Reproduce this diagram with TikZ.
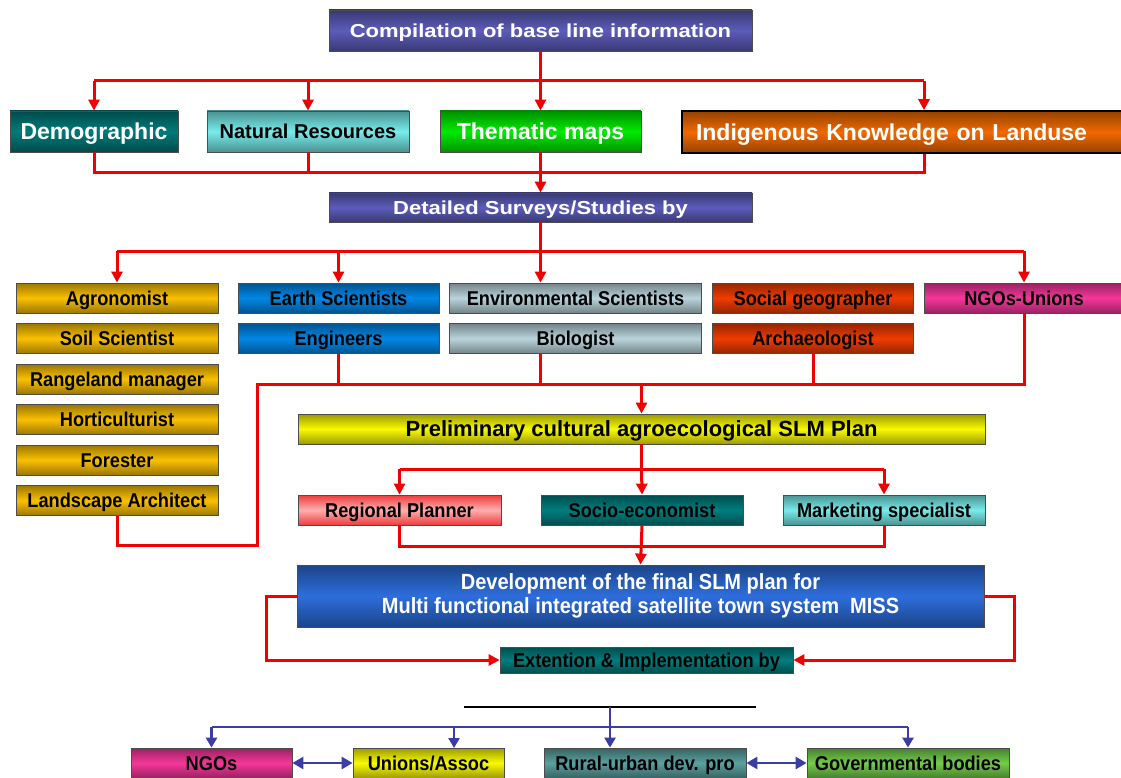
\documentclass[tikz,border=0pt]{standalone}
\usepackage{fontspec}
\setmainfont{Liberation Sans}
\newfontfamily\wideface[FakeStretch=1.17]{Liberation Sans}
\newfontfamily\narrowface[FakeStretch=0.91]{Liberation Sans}
\usetikzlibrary{arrows.meta}

\definecolor{compC}{RGB}{92,92,186}
\definecolor{demoC}{RGB}{0,122,122}
\definecolor{natresC}{RGB}{120,235,235}
\definecolor{themC}{RGB}{0,235,0}
\definecolor{indigC}{RGB}{240,105,0}
\definecolor{goldC}{RGB}{250,192,0}
\definecolor{earthC}{RGB}{0,135,230}
\definecolor{envC}{RGB}{185,212,220}
\definecolor{socialC}{RGB}{240,60,0}
\definecolor{ngoC}{RGB}{245,55,155}
\definecolor{prelimC}{RGB}{250,250,0}
\definecolor{regionE}{RGB}{235,60,60}
\definecolor{regionM}{RGB}{255,175,175}
\definecolor{socioC}{RGB}{0,125,125}
\definecolor{develC}{RGB}{45,110,220}
\definecolor{ruralC}{RGB}{90,160,160}
\definecolor{govC}{RGB}{115,205,75}
\definecolor{lineR}{RGB}{240,0,0}
\definecolor{lineB}{RGB}{60,60,165}

\begin{document}
\begin{tikzpicture}[x=1pt, y=-1pt]
    \tikzset{
        box/.style={draw=black!70, line width=0.8pt, inner sep=0pt, minimum height=30pt, text=black},
        tint/.style={top color=#1!62!black, bottom color=#1!62!black, middle color=#1},
        headfont/.style={font=\wideface\bfseries\fontsize{18.8}{22}\selectfont, text=white, text height=13.5pt, text depth=0pt},
        bigfont/.style={font=\bfseries\fontsize{23}{26}\selectfont, text=white, text height=16.5pt, text depth=0pt},
        slimfont/.style={font=\narrowface\bfseries\fontsize{20}{22}\selectfont, text height=14.3pt, text depth=0pt},
        redline/.style={draw=lineR, line width=3pt},
        redarrow/.style={redline, -{Triangle[length=11pt, width=11pt]}},
        blueline/.style={draw=lineB, line width=2.8pt},
        bluearrow/.style={blueline, -{Triangle[length=10pt, width=11pt]}},
        bluedouble/.style={blueline, {Triangle[length=11pt, width=12pt]}-{Triangle[length=11pt, width=12pt]}},
    }
    \useasboundingbox (0,0) rectangle (1121,778);
    \clip (0,0) rectangle (1121,778);

    % Base line
    \node[box, tint=compC, headfont, minimum width=423pt, minimum height=41pt] (comp) at (540.5,30.5) {Compilation of base line information};
    \node[box, tint=demoC, bigfont, minimum width=168pt, minimum height=41pt] (demo) at (94,131.5) {Demographic};
    \node[box, tint=natresC, font=\bfseries\fontsize{20}{22}\selectfont, text height=14.3pt, text depth=0pt, minimum width=202pt, minimum height=41pt] (natres) at (308,131.5) {Natural Resources};
    \node[box, tint=themC, bigfont, minimum width=201pt, minimum height=41pt] (thematic) at (540.5,131.5) {Thematic maps};
    \node[box, tint=indigC, bigfont, draw=black, line width=1.6pt, text width=456pt, inner xsep=14pt, align=left, minimum height=42pt] (indig) at (924,132) {Indigenous Knowledge on Landuse};
    \node[box, tint=compC, headfont, minimum width=423pt, minimum height=29pt] (detail) at (540.5,207.5) {Detailed Surveys/Studies by};

    % Surveys
    \node[box, tint=goldC, slimfont, minimum width=202pt] (agro) at (117,298) {Agronomist};
    \node[box, tint=goldC, slimfont, minimum width=202pt] (soil) at (117,338.5) {Soil Scientist};
    \node[box, tint=goldC, slimfont, minimum width=202pt] (range) at (117,379) {Rangeland manager};
    \node[box, tint=goldC, slimfont, minimum width=202pt] (horti) at (117,419.5) {Horticulturist};
    \node[box, tint=goldC, slimfont, minimum width=202pt] (forest) at (117,460) {Forester};
    \node[box, tint=goldC, slimfont, minimum width=202pt] (landarch) at (117,500.5) {Landscape Architect};
    \node[box, tint=earthC, slimfont, minimum width=201pt] (earth) at (338.5,298) {Earth Scientists};
    \node[box, tint=earthC, slimfont, minimum width=201pt] (engin) at (338.5,338.5) {Engineers};
    \node[box, tint=envC, slimfont, minimum width=252pt] (environ) at (575.5,298) {Environmental Scientists};
    \node[box, tint=envC, slimfont, minimum width=252pt] (bio) at (575.5,338.5) {Biologist};
    \node[box, tint=socialC, slimfont, minimum width=201pt] (social) at (813,298) {Social geographer};
    \node[box, tint=socialC, slimfont, minimum width=201pt] (archaeo) at (813,338.5) {Archaeologist};
    \node[box, tint=ngoC, slimfont, minimum width=200pt] (ngou) at (1024,298) {NGOs-Unions};

    % Plan
    \node[box, tint=prelimC, font=\bfseries\fontsize{22}{24}\selectfont, text height=15.8pt, text depth=0pt, minimum width=687pt] (prelim) at (641.5,429) {Preliminary cultural agroecological SLM Plan};
    \node[box, top color=regionE, bottom color=regionE, middle color=regionM, slimfont, minimum width=203pt] (regional) at (399.5,510) {Regional Planner};
    \node[box, tint=socioC, slimfont, minimum width=202pt] (socio) at (642,510) {Socio-economist};
    \node[box, tint=natresC, slimfont, minimum width=202pt] (market) at (884,510) {Marketing specialist};
    \node[box, tint=develC, font=\narrowface\bfseries\fontsize{22}{24}\selectfont, text=white, align=center, minimum width=687pt, minimum height=62pt] (devel) at (640.5,596) {Development of the final SLM plan for\\Multi functional integrated satellite town system~ MISS};
    \node[box, tint=socioC, slimfont, minimum width=293pt, minimum height=26pt] (ext) at (646.5,660) {Extention \& Implementation by};

    % Extension bodies
    \node[box, tint=ngoC, slimfont, minimum width=161pt] (ngos) at (211.5,763) {NGOs};
    \node[box, tint=prelimC, slimfont, minimum width=151pt] (unions) at (428.5,763) {Unions/Assoc};
    \node[box, tint=ruralC, slimfont, minimum width=202pt] (rural) at (645,763) {Rural-urban dev. pro};
    \node[box, tint=govC, slimfont, minimum width=202pt] (govt) at (908,763) {Governmental bodies};

    % Buses
    \coordinate (bus1) at (540.5,81);
    \coordinate (bus2) at (540.5,173);
    \coordinate (bus3) at (540.5,251);
    \coordinate (bus5) at (641.5,384);
    \coordinate (bend) at (257,545);
    \coordinate (bus6) at (641.5,469);
    \coordinate (bus7) at (641.5,546);
    \coordinate (barL) at (464,707);
    \coordinate (barR) at (756,707);
    \coordinate (barM) at (610,707);
    \coordinate (bus8) at (610,727);
    \coordinate (uin) at (454,748);

    % Red links
    \draw[redarrow] (comp.south) -- (thematic.north);
    \draw[redline] (bus1 -| demo.north) -- (bus1 -| indig.north);
    \draw[redarrow] (bus1 -| demo.north) -- (demo.north);
    \draw[redarrow] (bus1 -| natres.north) -- (natres.north);
    \draw[redarrow] (bus1 -| indig.north) -- (indig.north);
    \draw[redline] (demo.south) |- (indig.south |- bus2) -- (indig.south);
    \draw[redline] (natres.south) -- (natres.south |- bus2);
    \draw[redarrow] (thematic.south) -- (detail.north);

    \draw[redline] (detail.south) -- (bus3);
    \draw[redline] (bus3 -| agro.north) -- (bus3 -| ngou.north);
    \draw[redarrow] (bus3 -| agro.north) -- (agro.north);
    \draw[redarrow] (bus3 -| earth.north) -- (earth.north);
    \draw[redarrow] (bus3) -- (bus3 |- environ.north);
    \draw[redarrow] (bus3 -| ngou.north) -- (ngou.north);

    \draw[redline] (landarch.south) |- (bend) |- (ngou.south |- bus5) -- (ngou.south);
    \draw[redline] (engin.south) -- (engin.south |- bus5);
    \draw[redline] (bio.south -| bus3) -- (bus3 |- bus5);
    \draw[redline] (archaeo.south) -- (archaeo.south |- bus5);
    \draw[redarrow] (bus5) -- (prelim.north);

    \draw[redline] (prelim.south) -- (bus6);
    \draw[redline] (bus6 -| regional.north) -- (bus6 -| market.north);
    \draw[redarrow] (bus6 -| regional.north) -- (regional.north);
    \draw[redarrow] (bus6) -- (socio.north);
    \draw[redarrow] (bus6 -| market.north) -- (market.north);
    \draw[redline] (regional.south) |- (market.south |- bus7) -- (market.south);
    \draw[redarrow] (socio.south) -- (devel.north);

    \draw[redarrow] (devel.west) -- ++(-30,0) |- (ext.west);
    \draw[redarrow] (devel.east) -- ++(30,0) |- (ext.east);

    % Blue links
    \draw[line width=2pt] (barL) -- (barR);
    \draw[blueline] (barM) -- (bus8);
    \draw[blueline] (bus8 -| ngos.north) -- (bus8 -| govt.north);
    \draw[bluearrow] (bus8 -| ngos.north) -- (ngos.north);
    \draw[bluearrow] (bus8 -| uin) -- (uin);
    \draw[bluearrow] (bus8) -- (bus8 |- rural.north);
    \draw[bluearrow] (bus8 -| govt.north) -- (govt.north);
    \draw[bluedouble] (ngos.east) -- (unions.west);
    \draw[bluedouble] (rural.east) -- (govt.west);
\end{tikzpicture}
\end{document}
